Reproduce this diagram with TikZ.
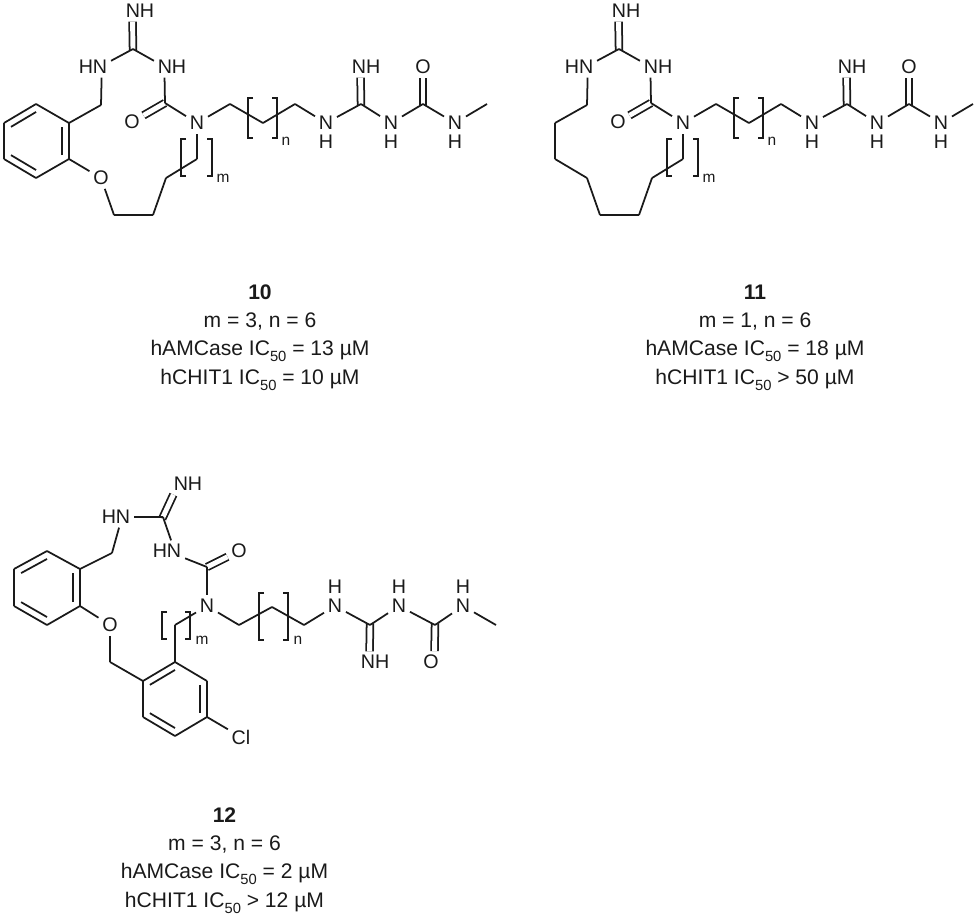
\documentclass[tikz,border=0pt]{standalone}
\usepackage{fontspec}
\setmainfont{Liberation Sans}
\usetikzlibrary{calc}
\definecolor{inkline}{HTML}{1A1A1A}
\newcommand{\subidx}[1]{\raisebox{-3.4pt}{\fontsize{8.4}{10}\selectfont #1}}
\tikzset{
   atom/.style={inner sep=2pt, text=inkline, font=\fontsize{11.2}{13}\selectfont},
   atomh/.style={atom, label={[atom, yshift=1.4pt]below:H}},
   atomhup/.style={atom, label={[atom, yshift=-1.4pt]above:H}},
   idx/.style={inner sep=0pt, text=inkline, font=\fontsize{8.8}{10}\selectfont},
   capt/.style={inner sep=0pt, align=center, text=inkline, font=\fontsize{12}{16.1}\selectfont},
   bond/.style={draw=inkline, line width=1pt},
   dbond/.style={bond, double=white, double distance=2.8pt},
}
\newcommand{\cyclecore}{%
   \node[atom] (nhtop) at (140, 11) {NH};
   \coordinate (gcore) at (133, 49);
   \node[atom] (hnleft) at (93, 67) {HN};
   \node[atom] (nhright) at (172, 67) {NH};
   \coordinate (ucore) at (165, 103);
   \node[atom] (ocore) at (132, 122) {O};
   \node[atom] (ncore) at (197, 123) {N};
   \coordinate (ch1) at (101, 105);
   \coordinate (ch2) at (69, 123);
   \coordinate (ch3) at (69, 159);
   \coordinate (lp1) at (114, 215);
   \coordinate (lp2) at (153, 215);
   \coordinate (lp3) at (166, 178);
   \coordinate (lp4) at (197, 159);
   \coordinate (cn1) at (230, 104);
   \coordinate (cn2) at (263, 123);
   \coordinate (cn3) at (295, 104);
   \node[atomh] (nh1) at (326, 123) {N};
   \coordinate (gtail) at (361, 104);
   \node[atom] (nhtail) at (366, 67) {NH};
   \node[atomh] (nh2) at (391, 123) {N};
   \coordinate (utail) at (423, 104);
   \node[atom] (otail) at (423, 67) {O};
   \node[atomh] (nh3) at (455, 123) {N};
   \coordinate (me) at (487, 104);
   \draw[dbond, shorten <=-1pt] (gcore) -- (nhtop.-125);
   \draw[dbond] (ocore) -- (ucore);
   \draw[dbond, shorten <=-1pt] (gtail) -- (nhtail.-117);
   \draw[dbond, shorten <=-1pt] (utail) -- (otail);
   \foreach \a/\b in {gcore/hnleft.19, gcore/nhright.161, nhright.-125/ucore, ucore/ncore,
         hnleft.-51/ch1, ch1/ch2, xo/lp1, lp1/lp2, lp2/lp3, lp3/lp4, lp4/ncore,
         ncore/cn1, cn1/cn2, cn2/cn3, cn3/nh1, nh1/gtail, gtail/nh2, nh2/utail, utail/nh3, nh3/me} {
      \draw[bond] (\a) -- (\b);
   }
   \foreach \x/\t in {248/5, 277/-5} {
      \draw[bond] (\x+\t, 98) -- (\x, 98) -- (\x, 138) -- (\x+\t, 138);
   }
   \foreach \x/\t in {181/5, 212/-5} {
      \draw[bond] (\x+\t, 139) -- (\x, 139) -- (\x, 176) -- (\x+\t, 176);
   }
   \node[idx] (idxn) at (286, 141) {n};
   \node[idx] (idxm) at (223, 178) {m};
}
\begin{document}
\begin{tikzpicture}[x=0.02cm, y=-0.02cm]
   \useasboundingbox (0, 0) rectangle (977, 916);
   \begin{scope}[name prefix=aa-]
      \node[atom] (xo) at (101, 178) {O};
      \cyclecore
      \coordinate (ar1) at (36, 104);
      \coordinate (ar2) at (4, 123);
      \coordinate (ar3) at (4, 159);
      \coordinate (ar4) at (36, 178);
      \coordinate (arc) at (36.5, 141);
      \foreach \a/\b in {ch2/ar1, ar1/ar2, ar2/ar3, ar3/ar4, ar4/ch3, ch3/ch2, ch3/xo} {
         \draw[bond] (\a) -- (\b);
      }
      \foreach \a/\b in {ar1/ar2, ar3/ar4, ch3/ch2} {
         \draw[bond] ($(arc)!0.785!(\a)$) -- ($(arc)!0.785!(\b)$);
      }
   \end{scope}
   \begin{scope}[shift={(486, 0)}, name prefix=bb-]
      \coordinate (xo) at (101, 178);
      \cyclecore
      \foreach \a/\b in {ch2/ch3, ch3/xo} {
         \draw[bond] (\a) -- (\b);
      }
   \end{scope}
   \node[atom] (nhc) at (188, 484) {NH};
   \node[atom] (hnc) at (116, 517) {HN};
   \coordinate (gc) at (163, 517);
   \node[atom] (hnd) at (167, 551) {HN};
   \coordinate (uc) at (207, 567);
   \node[atom] (oc) at (239, 551) {O};
   \node[atom] (nc) at (207, 606) {N};
   \coordinate (cc1) at (112, 553);
   \coordinate (rb1) at (80, 569);
   \coordinate (rb2) at (47, 551);
   \coordinate (rb3) at (14, 569);
   \coordinate (rb4) at (14, 606);
   \coordinate (rb5) at (47, 625);
   \coordinate (rb6) at (80, 606);
   \coordinate (rbc) at (47, 588);
   \node[atom] (oe) at (110, 625) {O};
   \coordinate (cc2) at (110, 662);
   \coordinate (rd1) at (143, 681);
   \coordinate (rd2) at (175, 662);
   \coordinate (rd3) at (207, 681);
   \coordinate (rd4) at (207, 717);
   \coordinate (rd5) at (175, 736);
   \coordinate (rd6) at (143, 717);
   \coordinate (rdc) at (175, 699);
   \node[atom] (cl) at (241, 737) {Cl};
   \coordinate (cc3) at (175, 625);
   \coordinate (ce1) at (239, 625);
   \coordinate (ce2) at (272, 607);
   \coordinate (ce3) at (304, 625);
   \node[atomhup] (ne1) at (335, 606) {N};
   \coordinate (ge) at (370, 625);
   \node[atom] (nhe) at (375, 662) {NH};
   \node[atomhup] (ne2) at (399, 606) {N};
   \coordinate (ue) at (435, 625);
   \node[atom] (oee) at (431, 662) {O};
   \node[atomhup] (ne3) at (463, 606) {N};
   \coordinate (mee) at (496, 625);
   \draw[dbond, shorten <=-1pt] (gc) -- (nhc.-144);
   \draw[dbond] (uc) -- (oc);
   \draw[dbond, shorten <=-1pt] (ge) -- (nhe.117);
   \draw[dbond, shorten <=-1pt] (ue) -- (oee.72);
   \foreach \a/\b in {gc/hnc, gc/hnd.69, hnd.-22/uc, uc/nc, hnc.-74/cc1, cc1/rb1,
         rb1/rb2, rb2/rb3, rb3/rb4, rb4/rb5, rb5/rb6, rb6/rb1, rb6/oe, oe/cc2, cc2/rd1,
         rd1/rd2, rd2/rd3, rd3/rd4, rd4/rd5, rd5/rd6, rd6/rd1, rd4/cl, rd2/cc3, cc3/nc,
         nc/ce1, ce1/ce2, ce2/ce3, ce3/ne1, ne1/ge, ge/ne2, ne2/ue, ue/ne3, ne3/mee} {
      \draw[bond] (\a) -- (\b);
   }
   \foreach \a/\b in {rb2/rb3, rb4/rb5, rb6/rb1} {
      \draw[bond] ($(rbc)!0.785!(\a)$) -- ($(rbc)!0.785!(\b)$);
   }
   \foreach \a/\b in {rd1/rd2, rd3/rd4, rd5/rd6} {
      \draw[bond] ($(rdc)!0.785!(\a)$) -- ($(rdc)!0.785!(\b)$);
   }
   \foreach \x/\t in {162/5, 190/-5} {
      \draw[bond] (\x+\t, 612) -- (\x, 612) -- (\x, 639) -- (\x+\t, 639);
   }
   \foreach \x/\t in {259/5, 288/-5} {
      \draw[bond] (\x+\t, 593) -- (\x, 593) -- (\x, 640) -- (\x+\t, 640);
   }
   \node[idx] (idxmc) at (202, 640) {m};
   \node[idx] (idxnc) at (298, 640) {n};
   \node[capt] (capta) at (260, 337.5) {\textbf{10}\\m = 3, n = 6\\hAMCase IC\subidx{50} = 13 µM\\hCHIT1 IC\subidx{50} = 10 µM};
   \node[capt] (captb) at (755, 337.5) {\textbf{11}\\m = 1, n = 6\\hAMCase IC\subidx{50} = 18 µM\\hCHIT1 IC\subidx{50} > 50 µM};
   \node[capt] (captc) at (224.5, 860.5) {\textbf{12}\\m = 3, n = 6\\hAMCase IC\subidx{50} = 2 µM\\hCHIT1 IC\subidx{50} > 12 µM};
\end{tikzpicture}
\end{document}
